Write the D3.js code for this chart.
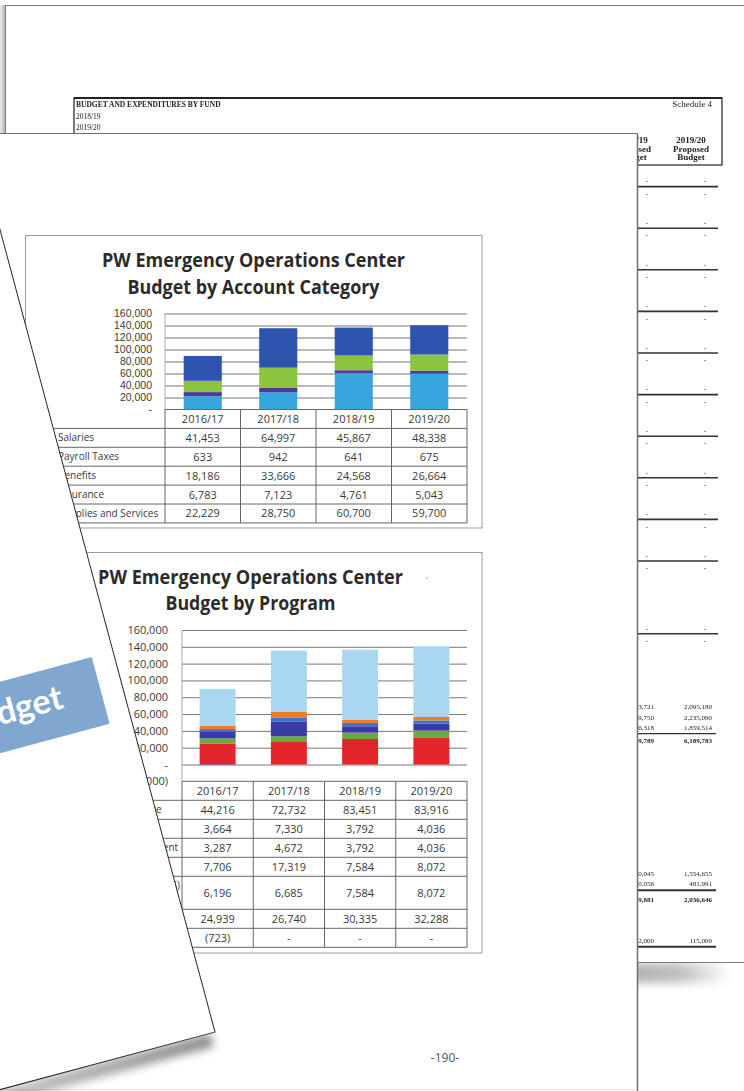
<!DOCTYPE html>
<html>
<head>
<meta charset="utf-8">
<title>PW Emergency Operations Center</title>
<script src="https://cdn.jsdelivr.net/npm/d3@7"></script>
<style>
  body { margin: 0; background: #fff; }
  svg { display: block; }
  .title { font-family: "Open Sans", sans-serif; font-weight: 700; font-size: 20px; fill: #2b2b2b; }
  .cell { font-family: "Open Sans", sans-serif; font-size: 11px; fill: #3a3a3a; }
  .rowlabel { font-family: "Open Sans", sans-serif; font-size: 10px; fill: #3a3a3a; }
  .sched { font-family: "Liberation Serif", serif; fill: #222; }
</style>
</head>
<body>
<svg id="scene"></svg>
<script>
// ---------- data ----------
const YEARS = ["2016/17", "2017/18", "2018/19", "2019/20"];

// Budget by Account Category, in table order
const ACCOUNT_CATEGORIES = ["Salaries", "Payroll Taxes", "Benefits", "Insurance", "Supplies and Services"];
const SALARIES = [41453, 64997, 45867, 48338];
const PAYROLL_TAXES = [633, 942, 641, 675];
const BENEFITS = [18186, 33666, 24568, 26664];
const INSURANCE = [6783, 7123, 4761, 5043];
const SUPPLIES = [22229, 28750, 60700, 59700];
const ACCOUNT_COLORS = ["#2d55b0", "#3d3592", "#8dc43f", "#4b3b9d", "#37a6df"];
const ACCOUNT_STACK = [4, 3, 2, 1, 0];   // bottom first
const ACCOUNT_TICKS = [0, 20000, 40000, 60000, 80000, 100000, 120000, 140000, 160000];

// Budget by Program, in table order
const PROGRAMS = ["Disaster Response Service", "Training", "Flood Response Management", "Communications",
                  "Disaster Recovery (FEMA/OES)\nReimbursement", "Field Operations", "Prior Year Adjustment"];
const PROGRAM_1 = [44216, 72732, 83451, 83916];
const PROGRAM_2 = [3664, 7330, 3792, 4036];
const PROGRAM_3 = [3287, 4672, 3792, 4036];
const PROGRAM_4 = [7706, 17319, 7584, 8072];
const PROGRAM_5 = [6196, 6685, 7584, 8072];
const PROGRAM_6 = [24939, 26740, 30335, 32288];
const PROGRAM_7 = [-723, 0, 0, 0];
const PROGRAM_COLORS = ["#a9d6f1", "#f07b2e", "#3e73c9", "#3a39a6", "#6cab39", "#e2262b", "#8064a2"];
const PROGRAM_STACK = [5, 4, 3, 2, 1, 0, 6];
const PROGRAM_TICKS = [-20000, 0, 20000, 40000, 60000, 80000, 100000, 120000, 140000, 160000];

// the schedule page lying underneath
const SCHEDULE_HEADER = ["BUDGET AND EXPENDITURES BY FUND", "2018/19", "2019/20"];
const SCHEDULE_COLUMNS = [["2018/19", "Proposed", "Budget"], ["2019/20", "Proposed", "Budget"]];
const SCHEDULE_RULE_ROWS = [4, 8, 12, 16, 20, 24, 28, 32, 36, 40, 47];
const SCHEDULE_AMOUNT_ROWS = [54, 55, 56, 57.3, 70, 71, 72.5, 76.5];
const SCHEDULE_PRIOR = ["2,053,721", "2,209,750", "1,846,318", "6,109,789", "1,530,045", "470,056", "2,009,881", "112,000"];
const SCHEDULE_PROPOSED = ["2,095,180", "2,235,090", "1,859,514", "6,189,783", "1,554,655", "481,991", "2,036,646", "115,000"];
const SCHEDULE_BOLD = [false, false, false, true, false, false, true, false];
const SCHEDULE_TOTAL_RULES = [56.6, 71.65, 77.1];

// ---------- layout ----------
const W = 744, H = 1091;
const FRONT_CORNER = [215, 1032];
const FRONT_ANGLE = -15;

const svg = d3.select("#scene").attr("width", W).attr("height", H);
const defs = svg.append("defs");

function fmtAmount(v) {
    if (v === 0) return "-";
    if (v < 0) return "(" + d3.format(",")(-v) + ")";
    return d3.format(",")(v);
}

function addDefs() {
    defs.append("filter").attr("id", "blur")
        .attr("x", "-20%").attr("y", "-150%").attr("width", "140%").attr("height", "400%")
        .append("feGaussianBlur").attr("stdDeviation", 4);
    defs.append("filter").attr("id", "soft")
        .append("feGaussianBlur").attr("stdDeviation", 0.3);

    const fs = defs.append("linearGradient").attr("id", "frontShadow");
    fs.append("stop").attr("offset", 0).attr("stop-color", "#000").attr("stop-opacity", 0);
    fs.append("stop").attr("offset", 0.6).attr("stop-color", "#000").attr("stop-opacity", 0.2);
    fs.append("stop").attr("offset", 1).attr("stop-color", "#000").attr("stop-opacity", 0.45);

    const bs = defs.append("linearGradient").attr("id", "backShadow");
    bs.append("stop").attr("offset", 0).attr("stop-color", "#8a8a8a").attr("stop-opacity", 0.8);
    bs.append("stop").attr("offset", 0.7).attr("stop-color", "#8a8a8a").attr("stop-opacity", 0.55);
    bs.append("stop").attr("offset", 1).attr("stop-color", "#8a8a8a").attr("stop-opacity", 0);

    const ls = defs.append("linearGradient").attr("id", "leftShadow");
    ls.append("stop").attr("offset", 0).attr("stop-color", "#ececec");
    ls.append("stop").attr("offset", 1).attr("stop-color", "#b4b4b4");
}

function drawBackPage() {
    svg.append("rect").attr("x", 560).attr("y", 963).attr("width", 170).attr("height", 20)
        .attr("fill", "url(#backShadow)").attr("filter", "url(#blur)");
    svg.append("rect").attr("x", 0).attr("y", 5).attr("width", 5).attr("height", 129)
        .attr("fill", "url(#leftShadow)");
    svg.append("rect").attr("x", 5.5).attr("y", 5.5).attr("width", 800).attr("height", 957)
        .attr("fill", "#fff").attr("stroke", "#7a7a7a");

    const page = svg.append("g").attr("filter", "url(#soft)");
    const rowY = d3.scaleLinear().domain([0, 1]).range([145, 155.4]);

    // header box
    page.append("rect").attr("x", 74).attr("y", 98).attr("width", 648).attr("height", 67)
        .attr("fill", "none").attr("stroke", "#333").attr("stroke-width", 1.3);
    page.append("line").attr("x1", 74).attr("x2", 722).attr("y1", 98).attr("y2", 98)
        .attr("stroke", "#222").attr("stroke-width", 2);
    page.selectAll(".hdr").data(SCHEDULE_HEADER).join("text")
        .attr("class", "sched")
        .attr("x", 76).attr("y", (d, i) => 107 + i * 11.5)
        .attr("font-size", 7.5).attr("font-weight", (d, i) => i === 0 ? 700 : 400)
        .text(d => d);
    page.append("text").attr("class", "sched").attr("x", 712).attr("y", 107)
        .attr("text-anchor", "end").attr("font-size", 9).text("Schedule 4");

    const colX = [633, 691];
    SCHEDULE_COLUMNS.forEach(function(lines, c) {
        page.selectAll(".col" + c).data(lines).join("text")
            .attr("class", "sched").attr("x", colX[c]).attr("y", (d, i) => 143 + i * 8.5)
            .attr("text-anchor", "middle").attr("font-size", 9).attr("font-weight", 700)
            .text(d => d);
    });

    // rules with nil amounts above and below
    page.selectAll(".rule").data(SCHEDULE_RULE_ROWS).join("line")
        .attr("x1", 560).attr("x2", 718)
        .attr("y1", d => rowY(d)).attr("y2", d => rowY(d))
        .attr("stroke", "#333").attr("stroke-width", 1.6);
    const dashRows = [];
    SCHEDULE_RULE_ROWS.forEach(function(r) { dashRows.push(r - 0.55, r + 0.65); });
    colX.forEach(function(x) {
        page.selectAll(null).data(dashRows).join("text")
            .attr("class", "sched").attr("x", x + 14).attr("y", d => rowY(d) + 2.5)
            .attr("text-anchor", "middle").attr("font-size", 7).attr("fill", "#666")
            .text("-");
    });

    // amounts
    [SCHEDULE_PRIOR, SCHEDULE_PROPOSED].forEach(function(vals, c) {
        page.selectAll(null).data(vals).join("text")
            .attr("class", "sched")
            .attr("x", c === 0 ? 654 : 712)
            .attr("y", (d, i) => rowY(SCHEDULE_AMOUNT_ROWS[i]) + 2.5)
            .attr("text-anchor", "end").attr("font-size", 7)
            .attr("font-weight", (d, i) => SCHEDULE_BOLD[i] ? 700 : 400)
            .text(d => d);
    });
    page.selectAll(".tot").data(SCHEDULE_TOTAL_RULES).join("line")
        .attr("x1", 560).attr("x2", 716)
        .attr("y1", d => rowY(d)).attr("y2", d => rowY(d))
        .attr("stroke", "#333").attr("stroke-width", (d, i) => i === 0 ? 1.3 : 2);
}

function drawMiddlePage() {
    svg.append("rect").attr("x", -5).attr("y", 133.5).attr("width", 642.5).attr("height", 1000)
        .attr("fill", "#fff");
    svg.append("line").attr("x1", 0).attr("x2", 637.5).attr("y1", 133.5).attr("y2", 133.5)
        .attr("stroke", "#6e6e6e").attr("stroke-width", 1.2);
    svg.append("line").attr("x1", 637.5).attr("x2", 637.5).attr("y1", 133.5).attr("y2", H)
        .attr("stroke", "#6e6e6e").attr("stroke-width", 1.5);
    svg.append("line").attr("x1", 0).attr("x2", 637).attr("y1", 1089.5).attr("y2", 1089.5)
        .attr("stroke", "#e4e4e4");
    svg.append("text").attr("x", 445).attr("y", 1062).attr("text-anchor", "middle")
        .attr("font-family", "'Open Sans', sans-serif").attr("font-size", 12).attr("fill", "#555")
        .text("-190-");
}

function stackSeries(names, values, order) {
    const rows = YEARS.map(function(year, i) {
        const row = {year: year};
        names.forEach(function(n, k) { row[n] = values[k][i]; });
        return row;
    });
    return d3.stack().keys(order.map(k => names[k])).offset(d3.stackOffsetDiverging)(rows);
}

function drawChart(cfg) {
    const g = svg.append("g");
    const p = cfg.plot;

    g.append("rect").attr("x", cfg.box[0]).attr("y", cfg.box[1])
        .attr("width", cfg.box[2] - cfg.box[0]).attr("height", cfg.box[3] - cfg.box[1])
        .attr("fill", "#fff").attr("stroke", "#9b9b9b");

    cfg.titles.forEach(function(t, i) {
        g.append("text").attr("class", "title")
            .attr("x", cfg.titleX).attr("y", cfg.titleY[i]).attr("text-anchor", "middle")
            .attr("textLength", cfg.titleWidth[i]).attr("lengthAdjust", "spacingAndGlyphs")
            .text(t);
    });

    const y = d3.scaleLinear().domain([cfg.ticks[0], cfg.ticks[cfg.ticks.length - 1]]).range([p.bottom, p.top]);
    const x = d3.scaleBand().domain(YEARS).range([p.left, p.right]).paddingInner(0.495).paddingOuter(0.2475);
    const cols = d3.scaleBand().domain(YEARS).range([p.left, p.right]);

    // gridlines
    const grid = g.append("g").attr("transform", "translate(" + p.left + ",0)")
        .call(d3.axisLeft(y).tickValues(cfg.ticks.filter(t => t > cfg.ticks[0]))
            .tickSize(-(p.right - p.left)).tickFormat(""));
    grid.select(".domain").remove();
    grid.selectAll("line").attr("stroke", "#777");
    g.append("line").attr("x1", p.left).attr("x2", p.left).attr("y1", p.top).attr("y2", p.bottom)
        .attr("stroke", "#aaa");

    // y labels
    const labels = g.append("g").attr("transform", "translate(" + p.left + ",0)")
        .call(d3.axisLeft(y).tickValues(cfg.ticks).tickSize(0).tickPadding(cfg.labelPad).tickFormat(fmtAmount));
    labels.select(".domain").remove();
    labels.attr("font-family", cfg.labelFont).attr("font-size", cfg.labelSize).attr("color", "#3a3a3a");

    // stacked bars
    const stacked = stackSeries(cfg.names, cfg.values, cfg.order);
    g.append("g").selectAll("g").data(stacked).join("g")
        .attr("fill", d => cfg.colors[cfg.names.indexOf(d.key)])
        .selectAll("rect").data(d => d).join("rect")
        .attr("x", d => x(d.data.year))
        .attr("width", x.bandwidth())
        .attr("y", d => y(d[1]))
        .attr("height", d => Math.max(0, y(d[0]) - y(d[1])));

    // data table
    const tableTop = p.bottom;
    const tops = [];
    let cursor = tableTop + cfg.rowH;
    cfg.names.forEach(function(n) {
        tops.push(cursor);
        cursor += cfg.rowH + (n.split("\n").length - 1) * cfg.lineStep;
    });
    const tableBottom = cursor;

    const lines = g.append("g").attr("stroke", "#666").attr("stroke-width", 1);
    lines.append("line").attr("x1", p.left).attr("x2", p.right).attr("y1", tableTop).attr("y2", tableTop);
    lines.selectAll(null).data(tops.concat([tableBottom])).join("line")
        .attr("x1", cfg.tableLeft).attr("x2", p.right)
        .attr("y1", d => d).attr("y2", d => d);
    lines.selectAll(null).data(YEARS.concat(["end"])).join("line")
        .attr("x1", (d, i) => p.left + i * cols.step()).attr("x2", (d, i) => p.left + i * cols.step())
        .attr("y1", tableTop).attr("y2", tableBottom);
    lines.append("line").attr("x1", cfg.tableLeft).attr("x2", cfg.tableLeft)
        .attr("y1", tops[0]).attr("y2", tableBottom);

    g.selectAll(null).data(YEARS).join("text").attr("class", "cell")
        .attr("x", d => cols(d) + cols.bandwidth() / 2).attr("y", tableTop + cfg.rowH / 2 + 4)
        .attr("text-anchor", "middle").text(d => d);

    cfg.names.forEach(function(name, r) {
        const h = (r + 1 < tops.length ? tops[r + 1] : tableBottom) - tops[r];
        const parts = name.split("\n");
        parts.forEach(function(part, k) {
            g.append("text").attr("class", "rowlabel")
                .attr("x", cfg.labelX)
                .attr("y", tops[r] + cfg.rowH / 2 + 3.5 + k * cfg.lineStep)
                .text(part);
        });
        g.selectAll(null).data(cfg.values[r]).join("text").attr("class", "cell")
            .attr("x", (d, i) => cols(YEARS[i]) + cols.bandwidth() / 2)
            .attr("y", tops[r] + h / 2 + 4)
            .attr("text-anchor", "middle")
            .text(d => fmtAmount(d));
    });
    return g;
}

function drawFrontPage() {
    const front = svg.append("g")
        .attr("transform", "translate(" + FRONT_CORNER[0] + "," + FRONT_CORNER[1] + ") rotate(" + FRONT_ANGLE + ")");
    front.append("rect").attr("x", -620).attr("y", 0).attr("width", 615).attr("height", 14)
        .attr("fill", "url(#frontShadow)").attr("filter", "url(#blur)");
    front.append("rect").attr("x", -1200).attr("y", -1600).attr("width", 1200).attr("height", 1600)
        .attr("fill", "#fff").attr("stroke", "#2a2a2a").attr("stroke-width", 1);
    front.append("rect").attr("x", -700).attr("y", -394).attr("width", 678).attr("height", 69)
        .attr("fill", "#7fa7cf");
    front.append("text").attr("x", -61).attr("y", -352).attr("text-anchor", "end")
        .attr("font-family", "Lato, sans-serif").attr("font-weight", 700).attr("font-size", 34)
        .attr("fill", "#fff").text("Budget");
}

addDefs();
drawBackPage();
drawMiddlePage();

drawChart({
    box: [25.5, 235.5, 482, 528],
    titles: ["PW Emergency Operations Center", "Budget by Account Category"],
    titleX: 253.5, titleY: [267, 294], titleWidth: [303, 252],
    plot: {left: 165, right: 467, top: 313.5, bottom: 409.5},
    ticks: ACCOUNT_TICKS, labelPad: 13,
    labelFont: "'Liberation Sans', Arial, sans-serif", labelSize: 10.5,
    names: ACCOUNT_CATEGORIES,
    values: [SALARIES, PAYROLL_TAXES, BENEFITS, INSURANCE, SUPPLIES],
    order: ACCOUNT_STACK, colors: ACCOUNT_COLORS,
    tableLeft: 27, rowH: 18.9, lineStep: 14, labelX: 58
});

const programChart = drawChart({
    box: [25.5, 552.5, 482, 953],
    titles: ["PW Emergency Operations Center", "Budget by Program"],
    titleX: 250.5, titleY: [584, 610], titleWidth: [305, 170],
    plot: {left: 182, right: 467, top: 630, bottom: 781.3},
    ticks: PROGRAM_TICKS, labelPad: 14,
    labelFont: "'Open Sans', sans-serif", labelSize: 11,
    names: PROGRAMS,
    values: [PROGRAM_1, PROGRAM_2, PROGRAM_3, PROGRAM_4, PROGRAM_5, PROGRAM_6, PROGRAM_7],
    order: PROGRAM_STACK, colors: PROGRAM_COLORS,
    tableLeft: 27, rowH: 19, lineStep: 14, labelX: 40
});
// speck on the scan next to the title
programChart.append("circle").attr("cx", 427).attr("cy", 578).attr("r", 1).attr("fill", "#bbb");

drawFrontPage();
</script>
</body>
</html>
